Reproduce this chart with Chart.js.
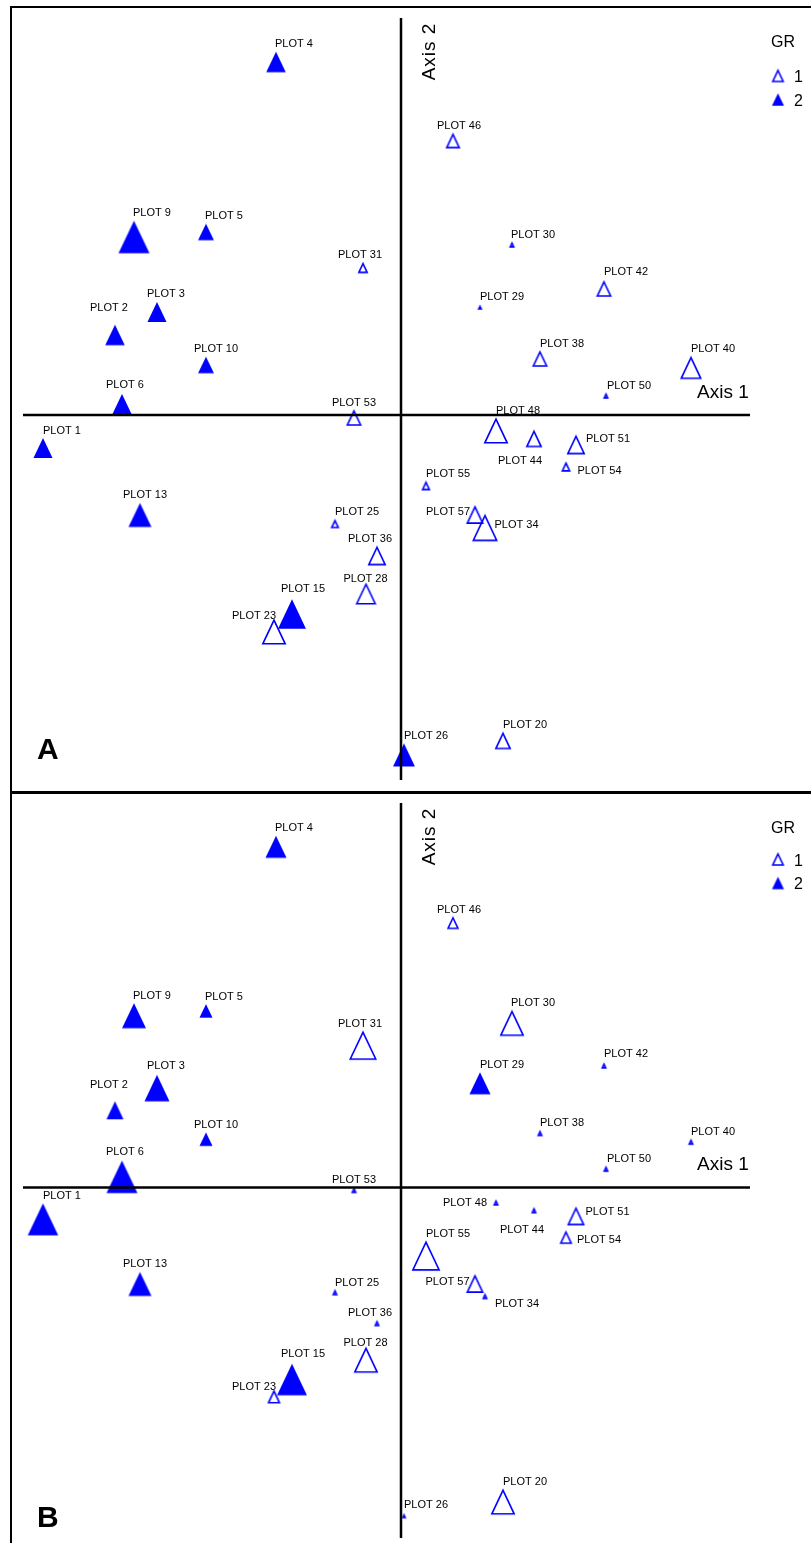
<!DOCTYPE html>
<html>
<head>
<meta charset="utf-8">
<title>Ordination – GR overlay</title>
<script src="https://cdn.jsdelivr.net/npm/chart.js@4.4.1/dist/chart.umd.min.js"></script>
<style>
  html, body { margin: 0; padding: 0; background: #fff; }
  body { width: 811px; height: 1543px; position: relative; overflow: hidden; }
  .frame { position: absolute; left: 10px; top: 6px; width: 820px; height: 1560px;
           border-left: 2px solid #000; border-top: 2px solid #000; }
  .divider { position: absolute; left: 10px; top: 791px; width: 820px; height: 3px; background: #000; }
  canvas { position: absolute; left: 12px; }
  #chartA { top: 8px; }
  #chartB { top: 794px; }
</style>
</head>
<body>
<div class="frame"></div>
<div class="divider"></div>
<canvas id="chartA" width="799" height="783"></canvas>
<canvas id="chartB" width="799" height="749"></canvas>

<script>
// plot scores on the two ordination axes
const plotNames = ['PLOT 1', 'PLOT 2', 'PLOT 3', 'PLOT 4', 'PLOT 5', 'PLOT 6', 'PLOT 9', 'PLOT 10',
  'PLOT 13', 'PLOT 15', 'PLOT 20', 'PLOT 23', 'PLOT 25', 'PLOT 26', 'PLOT 28', 'PLOT 29',
  'PLOT 30', 'PLOT 31', 'PLOT 34', 'PLOT 36', 'PLOT 38', 'PLOT 40', 'PLOT 42', 'PLOT 44',
  'PLOT 46', 'PLOT 48', 'PLOT 50', 'PLOT 51', 'PLOT 53', 'PLOT 54', 'PLOT 55', 'PLOT 57'];
const axis1 = [-3.58, -2.86, -2.44, -1.25, -1.95, -2.79, -2.67, -1.95,
  -2.61, -1.09, 1.02, -1.27, -0.66, 0.03, -0.35, 0.79,
  1.11, -0.38, 0.84, -0.24, 1.39, 2.90, 2.03, 1.33,
  0.52, 0.95, 2.05, 1.75, -0.47, 1.65, 0.25, 0.74];
const axis2 = [-0.33, 0.80, 1.03, 3.53, 1.83, 0.11, 1.78, 0.50,
  -1.00, -1.99, -3.26, -2.17, -1.09, -3.40, -1.79, 1.08,
  1.70, 1.47, -1.13, -1.41, 0.56, 0.47, 1.26, -0.24,
  2.74, -0.16, 0.19, -0.30, -0.03, -0.52, -0.71, -1.00];
// GR grouping
const groups = [2, 2, 2, 2, 2, 2, 2, 2,
  2, 2, 1, 1, 1, 2, 1, 2,
  1, 1, 1, 1, 1, 1, 1, 1,
  1, 1, 1, 1, 1, 1, 1, 1];
// overlay variable (relative 0–1) shown by symbol size, one per panel
const sizeA = [0.54, 0.56, 0.54, 0.56, 0.42, 0.54, 1.00, 0.42,
  0.69, 0.88, 0.42, 0.73, 0.12, 0.65, 0.58, 0.00,
  0.00, 0.19, 0.77, 0.50, 0.38, 0.62, 0.38, 0.42,
  0.35, 0.73, 0.00, 0.50, 0.38, 0.15, 0.13, 0.46];
const sizeB = [0.98, 0.46, 0.77, 0.62, 0.31, 1.00, 0.73, 0.31,
  0.69, 0.96, 0.73, 0.29, 0.00, 0.00, 0.73, 0.62,
  0.73, 0.85, 0.00, 0.00, 0.00, 0.00, 0.00, 0.00,
  0.25, 0.00, 0.00, 0.46, 0.00, 0.27, 0.88, 0.46];
const groupLabels = ['1', '2'];

const BLUE = '#0000ff';
const FONT = '"Liberation Sans", Arial, Helvetica, sans-serif';

const symbolWidth = v => 5 + v * 26;
const symbolHeight = v => symbolWidth(v) * 1.05;

// triangle marker drawn once into a small canvas, used as the point style
function triangleSprite(v, filled) {
  const w = symbolWidth(v), h = symbolHeight(v);
  const c = document.createElement('canvas');
  c.width = Math.ceil(w) + 8;
  c.height = Math.ceil(h) + 8;
  const g = c.getContext('2d');
  const lw = filled ? 0 : 1.6;
  const x0 = (c.width - w) / 2 + lw / 2, x1 = (c.width + w) / 2 - lw / 2;
  const y0 = (c.height - h) / 2 + lw / 2, y1 = (c.height + h) / 2 - lw / 2;
  g.beginPath();
  g.moveTo(c.width / 2, y0);
  g.lineTo(x1, y1);
  g.lineTo(x0, y1);
  g.closePath();
  if (filled) {
    g.fillStyle = BLUE;
    g.fill();
  } else {
    g.strokeStyle = BLUE;
    g.lineWidth = lw;
    g.stroke();
  }
  return c;
}

// label placement: dx = left edge offset, gap = distance above the symbol
const labelNudge = {
  'PLOT 2': { dx: -25, gap: 17.5 }, 'PLOT 3': { dx: -10, gap: 9.5 }, 'PLOT 4': { dx: -1 },
  'PLOT 5': { dx: -1 }, 'PLOT 6': { dx: -16, gap: 10 }, 'PLOT 9': { dx: -1 },
  'PLOT 10': { dx: -12 }, 'PLOT 13': { dx: -17 }, 'PLOT 15': { dx: -11, gap: 11 },
  'PLOT 23': { dx: -42, gap: 4 }, 'PLOT 28': { dx: -22.5, gap: 5.5 }, 'PLOT 30': { dx: -1 },
  'PLOT 31': { dx: -25 }, 'PLOT 36': { dx: -29 }, 'PLOT 42': { gap: 10 },
  'PLOT 46': { dx: -16 }, 'PLOT 50': { dx: 1 }, 'PLOT 53': { dx: -22 }
};
// labels set beside the symbol: [left edge, vertical centre] relative to the point
const sideLabels = {
  'PLOT 34': { A: [9.5, -4], B: [10, 6] },
  'PLOT 44': { A: [-36, 20.5], B: [-34, 18] },
  'PLOT 51': { A: [10, -7], B: [9.5, -5.5] },
  'PLOT 54': { A: [11.5, 3], B: [11, 1.5] },
  'PLOT 57': { A: [-49, -4.5], B: [-49.5, -3] },
  'PLOT 48': { B: [-53, -1] }
};

const ordinationPlugin = {
  id: 'ordination',
  afterDatasetsDraw(chart, args, opts) {
    const ctx = chart.ctx;
    const area = chart.chartArea;
    const x0 = chart.scales.x.getPixelForValue(0);
    const y0 = chart.scales.y.getPixelForValue(0);

    ctx.save();
    // axes through the origin
    ctx.strokeStyle = '#000';
    ctx.lineWidth = 2.5;
    ctx.beginPath();
    ctx.moveTo(area.left, y0);
    ctx.lineTo(area.right, y0);
    ctx.moveTo(x0, area.top);
    ctx.lineTo(x0, area.bottom);
    ctx.stroke();

    // plot labels
    ctx.fillStyle = '#000';
    ctx.font = '11px ' + FONT;
    ctx.textAlign = 'left';
    ctx.textBaseline = 'alphabetic';
    chart.data.datasets.forEach((ds, i) => {
      chart.getDatasetMeta(i).data.forEach((el, j) => {
        const p = ds.data[j];
        const side = sideLabels[p.name] && sideLabels[p.name][opts.panel];
        let lx, ly;
        if (side) {
          lx = el.x + side[0];
          ly = el.y + side[1];
        } else {
          const n = labelNudge[p.name] || {};
          lx = el.x + (n.dx || 0);
          ly = el.y - symbolHeight(p.size) / 2 - (n.gap || 8.5);
        }
        ctx.fillText(p.name, lx, ly + 4);
      });
    });

    // axis titles
    ctx.font = '19px ' + FONT;
    ctx.fillText('Axis 1', 685, y0 - 24 + 7);
    ctx.save();
    ctx.translate(x0 + 26.5, area.top + 33.5);
    ctx.rotate(-Math.PI / 2);
    ctx.textAlign = 'center';
    ctx.letterSpacing = '1px';
    ctx.fillText('Axis 2', 0, 7);
    ctx.restore();

    // GR legend
    ctx.font = '16px ' + FONT;
    ctx.fillText('GR', 759, opts.legendY[0] + 6);
    groupLabels.forEach((g, k) => {
      const s = triangleSprite(0.27, k === 1);
      const cy = opts.legendY[k + 1];
      ctx.drawImage(s, 766 - s.width / 2, cy - s.height / 2);
      ctx.fillText(g, 782, cy + 6);
    });

    // panel letter
    ctx.font = 'bold 30px ' + FONT;
    ctx.fillText(opts.tag, 25, opts.tagBaseline);
    ctx.restore();
  }
};

function makePanel(canvasId, sizes, panel) {
  const datasets = [1, 2].map(gr => {
    const pts = [];
    plotNames.forEach((name, i) => {
      if (groups[i] === gr) pts.push({ x: axis1[i], y: axis2[i], name: name, size: sizes[i] });
    });
    const sprites = pts.map(p => triangleSprite(p.size, gr === 2));
    return {
      label: 'GR ' + gr,
      data: pts,
      pointStyle: c => sprites[c.dataIndex],
      pointRadius: c => symbolWidth(pts[c.dataIndex].size) / 2,
      pointBorderWidth: 0,
      showLine: false
    };
  });

  return new Chart(document.getElementById(canvasId), {
    type: 'scatter',
    data: { datasets },
    options: {
      responsive: false,
      animation: false,
      events: [],
      layout: { padding: panel.padding, autoPadding: false },
      scales: {
        x: { type: 'linear', display: false, min: -3.78, max: 3.49 },
        y: { type: 'linear', display: false, min: panel.yMin, max: panel.yMax }
      },
      plugins: {
        legend: { display: false },
        tooltip: { enabled: false },
        ordination: panel
      }
    },
    plugins: [ordinationPlugin]
  });
}

document.addEventListener('DOMContentLoaded', () => {
  makePanel('chartA', sizeA, {
    panel: 'A', tag: 'A', tagBaseline: 751,
    yMin: -3.65, yMax: 3.97,
    padding: { left: 11, right: 61, top: 10, bottom: 11 },
    legendY: [33, 68, 91.5]
  });
  makePanel('chartB', sizeB, {
    panel: 'B', tag: 'B', tagBaseline: 733,
    yMin: -3.632, yMax: 3.984,
    padding: { left: 11, right: 61, top: 9, bottom: 5 },
    legendY: [32.5, 65.5, 89]
  });
});
</script>
</body>
</html>
